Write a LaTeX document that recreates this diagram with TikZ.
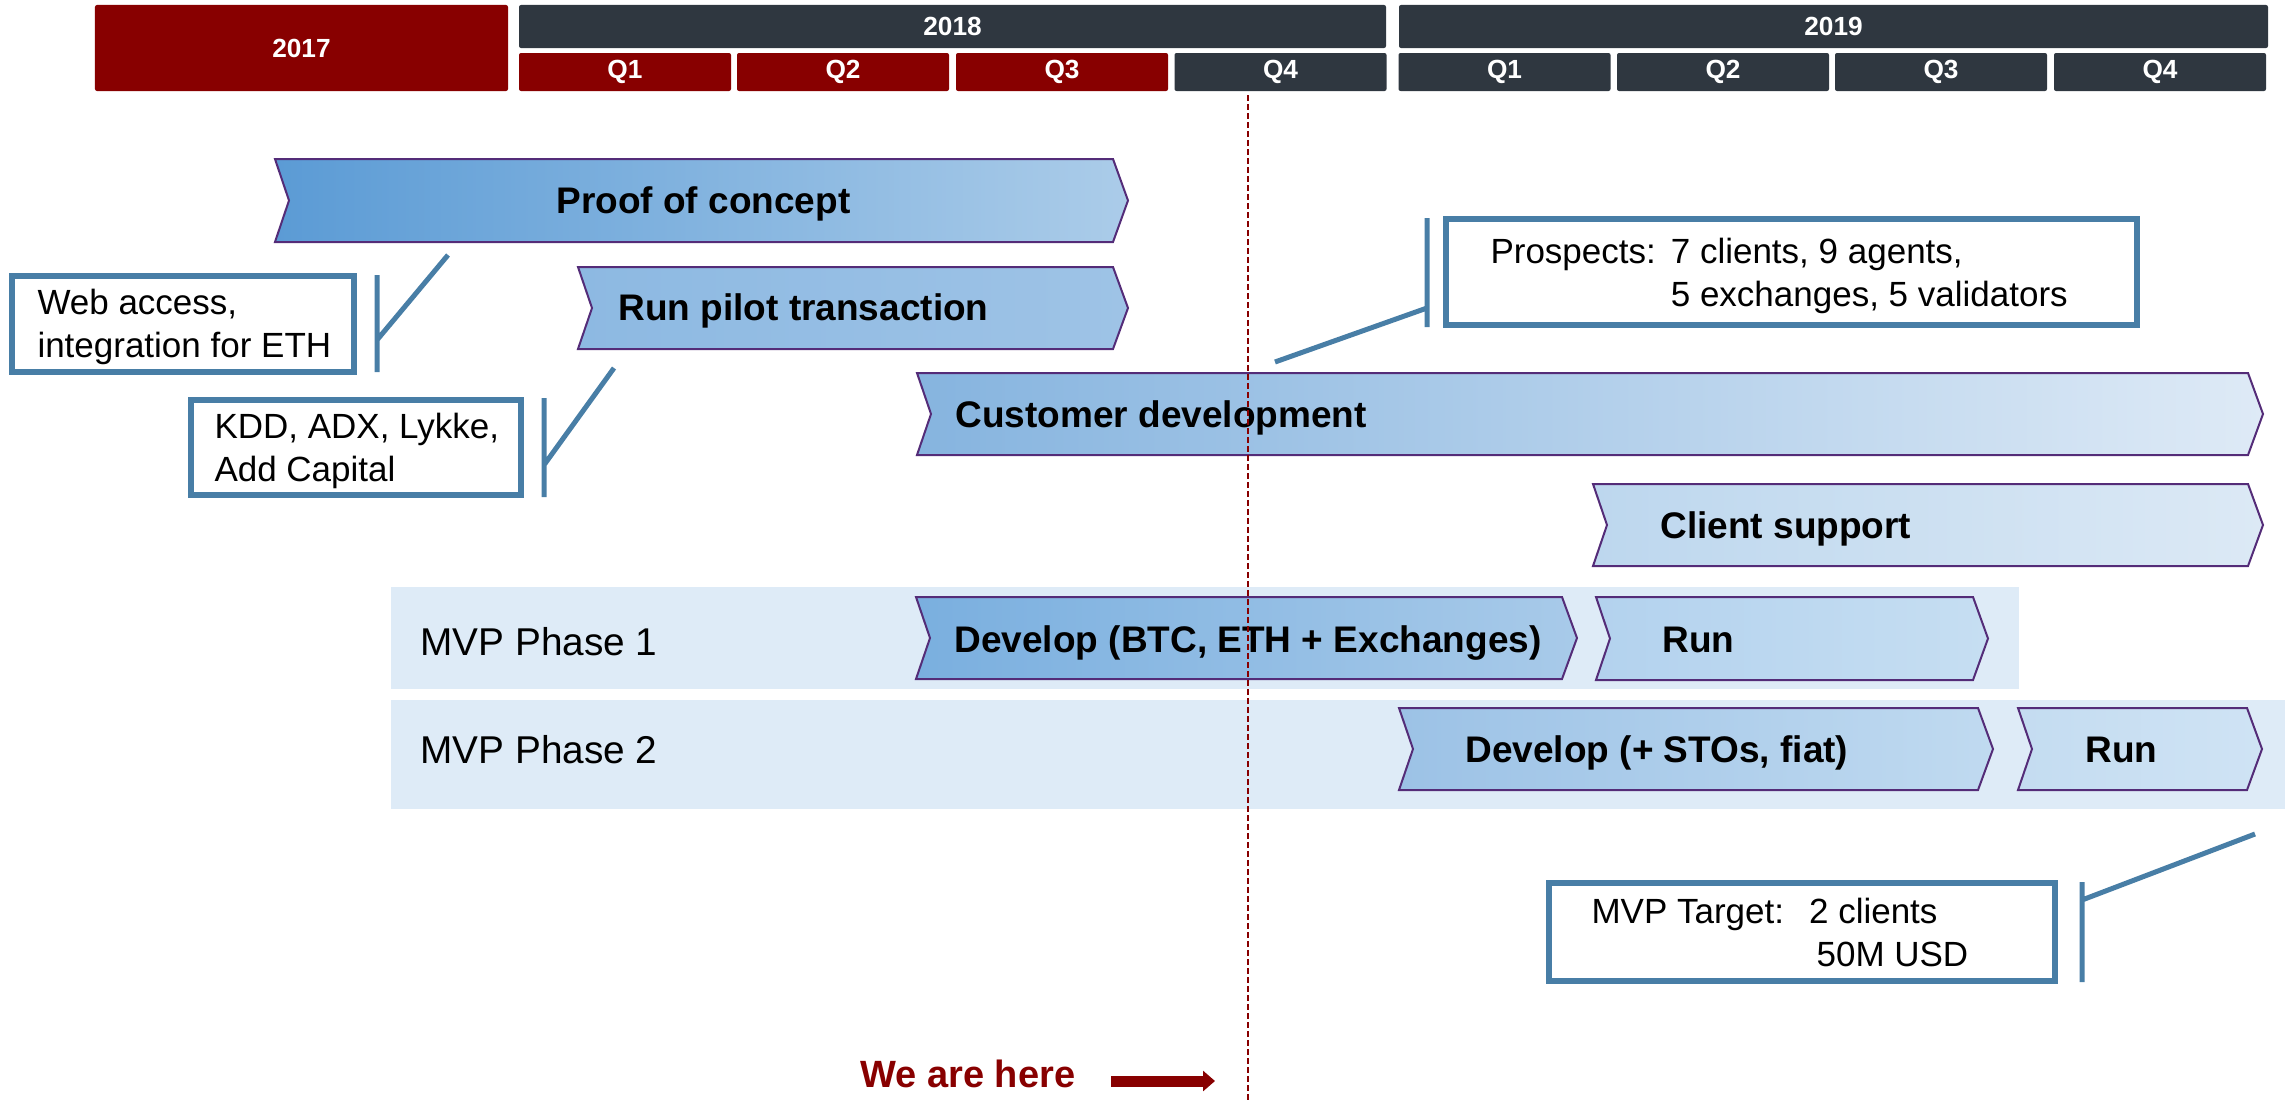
\documentclass[tikz,border=0pt]{standalone}
\usepackage{fontspec}
\setmainfont{Liberation Sans}
\usetikzlibrary{positioning,arrows.meta}

\definecolor{hdrred}{RGB}{136,0,0}
\definecolor{hdrslate}{RGB}{47,55,64}
\definecolor{bandblue}{RGB}{222,235,247}
\definecolor{calloutblue}{RGB}{72,126,166}
\definecolor{chevedge}{RGB}{84,44,120}
\definecolor{pocL}{RGB}{91,155,213}
\definecolor{pocR}{RGB}{171,204,233}
\definecolor{pilotL}{RGB}{141,185,226}
\definecolor{pilotR}{RGB}{158,195,230}
\definecolor{custL}{RGB}{134,180,223}
\definecolor{custR}{RGB}{222,234,246}
\definecolor{suppL}{RGB}{189,215,238}
\definecolor{suppR}{RGB}{220,233,245}
\definecolor{devaL}{RGB}{122,175,223}
\definecolor{devaR}{RGB}{168,202,233}
\definecolor{runaL}{RGB}{179,210,238}
\definecolor{runaR}{RGB}{198,222,242}
\definecolor{devbL}{RGB}{156,194,230}
\definecolor{devbR}{RGB}{192,218,240}
\definecolor{runbL}{RGB}{196,220,241}
\definecolor{runbR}{RGB}{207,227,244}

% left x, right x, top y, bottom y, left colour, right colour
\newcommand{\chevron}[6]{%
  \draw[chev, left color=#5, right color=#6]
    (#1,#3) -- ({#2-15},#3) -- (#2,{(#3+#4)/2}) -- ({#2-15},#4)
    -- (#1,#4) -- ({#1+14},{(#3+#4)/2}) -- cycle;}

\begin{document}
\begin{tikzpicture}[x=0.4pt, y=-0.4pt,
    hdr/.style={text=white, font=\fontsize{10.5}{12}\selectfont\bfseries, rounded corners=0.8pt, inner sep=0pt},
    chev/.style={draw=chevedge, line width=0.8pt},
    lbl/.style={font=\fontsize{14.8}{17}\selectfont\bfseries, inner sep=0pt, anchor=base west},
    note/.style={font=\fontsize{14}{17.4}\selectfont, inner sep=0pt, anchor=base west},
    phase/.style={font=\fontsize{15.5}{18}\selectfont, inner sep=0pt, anchor=base west},
    cbox/.style={draw=calloutblue, line width=2.4pt, fill=white, inner sep=0pt},
    cline/.style={draw=calloutblue, line width=2pt}]

	\useasboundingbox (0,0) rectangle (2285,1106);

	% timeline header
	\begin{scope}[every node/.style={hdr}]
		\node[fill=hdrred, minimum width=165.2pt, minimum height=34.4pt] (y2017) at (301.5,48) {2017};
		\node[fill=hdrslate, minimum width=346.8pt, minimum height=17.2pt] (y2018) at (952.5,26.5) {2018};
		\node[fill=hdrslate, minimum width=347.6pt, minimum height=17.2pt] (y2019) at (1833.5,26.5) {2019};
		\node[fill=hdrred, minimum width=84.8pt, minimum height=15.2pt] (q1a) at (625,72) {Q1};
		\node[fill=hdrred, minimum width=84.8pt, minimum height=15.2pt] (q2a) at (843,72) {Q2};
		\node[fill=hdrred, minimum width=84.8pt, minimum height=15.2pt] (q3a) at (1062,72) {Q3};
		\node[fill=hdrslate, minimum width=84.8pt, minimum height=15.2pt] (q4a) at (1280.5,72) {Q4};
		\node[fill=hdrslate, minimum width=84.8pt, minimum height=15.2pt] (q1b) at (1504.5,72) {Q1};
		\node[fill=hdrslate, minimum width=84.8pt, minimum height=15.2pt] (q2b) at (1723,72) {Q2};
		\node[fill=hdrslate, minimum width=84.8pt, minimum height=15.2pt] (q3b) at (1941,72) {Q3};
		\node[fill=hdrslate, minimum width=84.8pt, minimum height=15.2pt] (q4b) at (2160,72) {Q4};
	\end{scope}

	% MVP bands
	\fill[bandblue] (391,587) rectangle (2019,689);
	\fill[bandblue] (391,700) rectangle (2285,809);

	% activities
	\chevron{275}{1128}{159}{242}{pocL}{pocR}
	\chevron{578}{1128}{267}{349}{pilotL}{pilotR}
	\chevron{917}{2263}{373}{455}{custL}{custR}
	\chevron{1593}{2263}{484}{566}{suppL}{suppR}
	\chevron{916}{1577}{597}{679}{devaL}{devaR}
	\chevron{1596}{1988}{597}{680}{runaL}{runaR}
	\chevron{1399}{1993}{708}{790}{devbL}{devbR}
	\chevron{2018}{2262}{708}{790}{runbL}{runbR}

	\node[lbl] (poc) at (556,213) {Proof of concept};
	\node[lbl] (pilot) at (618,320) {Run pilot transaction};
	\node[lbl] (custdev) at (955,427) {Customer development};
	\node[lbl] (support) at (1660,538) {Client support};
	\node[lbl] (deva) at (954,652) {Develop (BTC, ETH + Exchanges)};
	\node[lbl] (runa) at (1662,652) {Run};
	\node[lbl] (devb) at (1465,762) {Develop (+ STOs, fiat)};
	\node[lbl] (runb) at (2085,762) {Run};

	\node[phase] (phasea) at (420,655) {MVP Phase 1};
	\node[phase] (phaseb) at (420,763) {MVP Phase 2};

	% callouts
	\node[cbox, minimum width=136.8pt, minimum height=38.4pt] (webbox) at (183,324) {};
	\node[cbox, minimum width=132pt, minimum height=38pt] (kddbox) at (356,447.5) {};
	\node[cbox, minimum width=276.4pt, minimum height=42.4pt] (prosbox) at (1791.5,272) {};
	\node[cbox, minimum width=202.4pt, minimum height=39.2pt] (mvpbox) at (1802,932) {};

	\node[note] (webtxt) at (37,314) {\begin{tabular}[t]{@{}l@{}}Web access,\\integration for ETH\end{tabular}};
	\node[note] (kddtxt) at (214,438) {\begin{tabular}[t]{@{}l@{}}KDD, ADX, Lykke,\\Add Capital\end{tabular}};
	\node[note] (prostxt) at (1490,263) {\begin{tabular}[t]{@{}l@{\hspace{6pt}}l@{}}Prospects: & 7 clients, 9 agents,\\ & 5 exchanges, 5 validators\end{tabular}};
	\node[note] (mvptxt) at (1591,923) {\begin{tabular}[t]{@{}l@{\hspace{10pt}}l@{}}MVP Target: & 2 clients\\ & \hspace{3pt}50M USD\end{tabular}};

	\coordinate (webtop) at (377,275);
	\coordinate (webbot) at (377,372);
	\coordinate (webjoin) at (377,340);
	\coordinate (webtip) at (448,255);
	\coordinate (kddtop) at (544,398);
	\coordinate (kddbot) at (544,497);
	\coordinate (kddjoin) at (544,465);
	\coordinate (kddtip) at (614,368);
	\coordinate (prostop) at (1427,218);
	\coordinate (prosbot) at (1427,327);
	\coordinate (prosjoin) at (1427,308);
	\coordinate (prostip) at (1275,362);
	\coordinate (mvptop) at (2082,882);
	\coordinate (mvpbot) at (2082,982);
	\coordinate (mvpjoin) at (2082,900);
	\coordinate (mvptip) at (2255,834);

	\draw[cline] (webtop) -- (webbot) (webjoin) -- (webtip);
	\draw[cline] (kddtop) -- (kddbot) (kddjoin) -- (kddtip);
	\draw[cline] (prostop) -- (prosbot) (prosjoin) -- (prostip);
	\draw[cline] (mvptop) -- (mvpbot) (mvpjoin) -- (mvptip);

	% today
	\coordinate (nowtop) at (1248,95);
	\coordinate (nowbot) at (1248,1100);
	\draw[hdrred, line width=0.8pt, dash pattern=on 2.4pt off 1.2pt] (nowtop) -- (nowbot);

	\node[font=\fontsize{15.2}{18}\selectfont\bfseries, text=hdrred, inner sep=0pt, anchor=base west] (here) at (860,1087) {We are here};
	\coordinate (herefoot) at (1111,1081);
	\coordinate (heretip) at (1215,1081);
	\draw[hdrred, line width=4.4pt, -{Triangle[length=4.8pt,width=8pt]}] (herefoot) -- (heretip);
\end{tikzpicture}
\end{document}
